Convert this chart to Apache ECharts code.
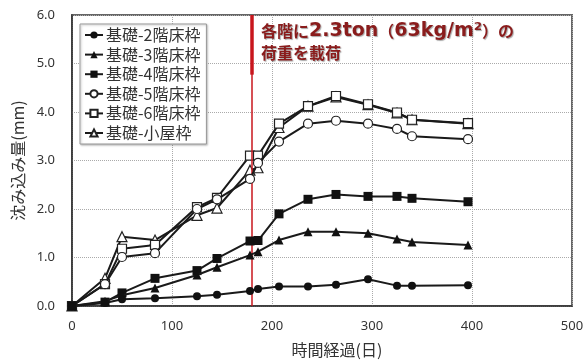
<!DOCTYPE html>
<html>
<head>
<meta charset="utf-8">
<script src="https://cdn.jsdelivr.net/npm/echarts@6/dist/echarts.min.js"></script>
<style>
  html, body { margin: 0; padding: 0; background: #fff; }
  #chart { width: 587px; height: 363px; }
</style>
</head>
<body>
<div id="chart"></div>
<script>
// Elapsed days at each measurement
const days = [0, 33, 50, 83, 125, 145, 178, 186, 207, 236, 264, 296, 325, 340, 396];

// Settlement (mm) of each floor frame relative to the foundation
const floor2 = [0, 0.06, 0.14, 0.16, 0.20, 0.23, 0.31, 0.35, 0.40, 0.40, 0.44, 0.55, 0.42, 0.42, 0.43];
const floor3 = [0, 0.10, 0.22, 0.37, 0.64, 0.80, 1.05, 1.12, 1.36, 1.53, 1.53, 1.50, 1.38, 1.32, 1.26];
const floor4 = [0, 0.08, 0.27, 0.57, 0.73, 0.98, 1.34, 1.35, 1.90, 2.20, 2.30, 2.26, 2.26, 2.22, 2.15];
const floor5 = [0, 0.45, 1.01, 1.09, 2.00, 2.20, 2.62, 2.95, 3.39, 3.76, 3.82, 3.76, 3.65, 3.50, 3.44];
const floor6 = [0, 0.45, 1.18, 1.26, 2.04, 2.23, 3.10, 3.10, 3.76, 4.12, 4.33, 4.16, 3.99, 3.84, 3.77];
const roof   = [0, 0.57, 1.43, 1.36, 1.87, 2.02, 2.80, 2.85, 3.68, 4.12, 4.31, 4.15, 3.98, 3.84, 3.76];

const seriesNames = ['基礎-2階床枠', '基礎-3階床枠', '基礎-4階床枠', '基礎-5階床枠', '基礎-6階床枠', '基礎-小屋枠'];

// Axis ticks
const xTicks = [0, 100, 200, 300, 400, 500];
const yTicks = [0, 1, 2, 3, 4, 5, 6];

// Day on which the load was applied
const loadDay = 180;

const pair = arr => days.map((d, i) => [d, arr[i]]);

const styles = [
  { symbol: 'circle',   fill: '#111', size: 8 },
  { symbol: 'triangle', fill: '#111', size: 9 },
  { symbol: 'rect',     fill: '#111', size: 9 },
  { symbol: 'circle',   fill: '#fff', size: 9 },
  { symbol: 'rect',     fill: '#fff', size: 9 },
  { symbol: 'triangle', fill: '#fff', size: 10 }
];
const values = [floor2, floor3, floor4, floor5, floor6, roof];

const series = values.map((v, i) => ({
  name: seriesNames[i],
  type: 'line',
  data: pair(v),
  symbol: styles[i].symbol,
  symbolSize: styles[i].size,
  lineStyle: { color: '#1a1a1a', width: 2 },
  itemStyle: { color: styles[i].fill, borderColor: '#222', borderWidth: styles[i].fill === '#fff' ? 1.2 : 0 },
  z: 3 + (5 - i)
}));

// Vertical line marking the loading day
series[0].markLine = {
  silent: true,
  symbol: 'none',
  animation: false,
  label: { show: false },
  lineStyle: { color: '#c8161d', width: 1.5, type: 'solid' },
  data: [
    { xAxis: loadDay },
    [{ coord: [loadDay, yTicks[yTicks.length - 1]] }, { coord: [loadDay, 4.77], lineStyle: { width: 3.5 } }]
  ]
};

const chart = echarts.init(document.getElementById('chart'), null, { renderer: 'canvas' });

chart.setOption({
  animation: false,
  backgroundColor: '#fff',
  grid: {
    left: 72, right: 15, top: 15, bottom: 55,
    show: true, borderColor: '#666', borderWidth: 2, backgroundColor: 'transparent'
  },
  legend: {
    orient: 'vertical',
    left: 80, top: 24,
    data: seriesNames,
    itemWidth: 18, itemHeight: 9, itemGap: 3.6,
    padding: [3, 6, 3, 4],
    backgroundColor: '#fff',
    borderColor: '#999', borderWidth: 1,
    shadowColor: 'rgba(0,0,0,0.25)', shadowBlur: 2, shadowOffsetX: 1, shadowOffsetY: 1,
    textStyle: { fontFamily: 'Noto Sans CJK JP', fontSize: 16, color: '#333', lineHeight: 15, padding: [0, 0, 0, -2] }
  },
  xAxis: {
    type: 'value',
    min: xTicks[0], max: xTicks[xTicks.length - 1], interval: xTicks[1] - xTicks[0],
    name: '時間経過(日)',
    nameLocation: 'middle', nameGap: 36,
    nameTextStyle: { fontFamily: 'Noto Sans CJK JP', fontSize: 16, color: '#333', padding: [0, 0, 0, 30] },
    axisLine: { lineStyle: { color: '#333', width: 1.5 } },
    axisTick: { show: false },
    axisLabel: { fontFamily: 'Noto Sans', fontSize: 13, color: '#333', margin: 14 },
    splitLine: { lineStyle: { color: '#aaa', type: 'dotted', width: 1 } }
  },
  yAxis: {
    type: 'value',
    min: yTicks[0], max: yTicks[yTicks.length - 1], interval: yTicks[1] - yTicks[0],
    name: '沈み込み量(mm)',
    nameLocation: 'middle', nameGap: 40,
    nameTextStyle: { fontFamily: 'Noto Sans CJK JP', fontSize: 16, color: '#333' },
    axisLine: { show: true, lineStyle: { color: '#333', width: 1.5 } },
    axisTick: { show: false },
    axisLabel: { fontFamily: 'Noto Sans', fontSize: 13, color: '#333', margin: 17, formatter: v => v.toFixed(1) },
    splitLine: { lineStyle: { color: '#aaa', type: 'dotted', width: 1 } }
  },
  graphic: [{
    type: 'text',
    left: 261, top: 20,
    z: 100,
    style: {
      text: '{c|各階に}{l|2.3ton}{c|（}{l|63kg/m²}{c|）の}\n{c|荷重を載荷}',
      fill: '#8a1c1c',
      lineHeight: 22,
      textShadowColor: 'rgba(0,0,0,0.35)', textShadowBlur: 1, textShadowOffsetX: 1, textShadowOffsetY: 1,
      rich: {
        c: { fontFamily: 'Noto Sans CJK JP', fontWeight: 'bold', fontSize: 16, fill: '#8a1c1c', lineHeight: 22 },
        l: { fontFamily: 'DejaVu Sans', fontWeight: 'bold', fontSize: 19, fill: '#8a1c1c', lineHeight: 22 }
      }
    }
  }],
  series: series
});
</script>
</body>
</html>
